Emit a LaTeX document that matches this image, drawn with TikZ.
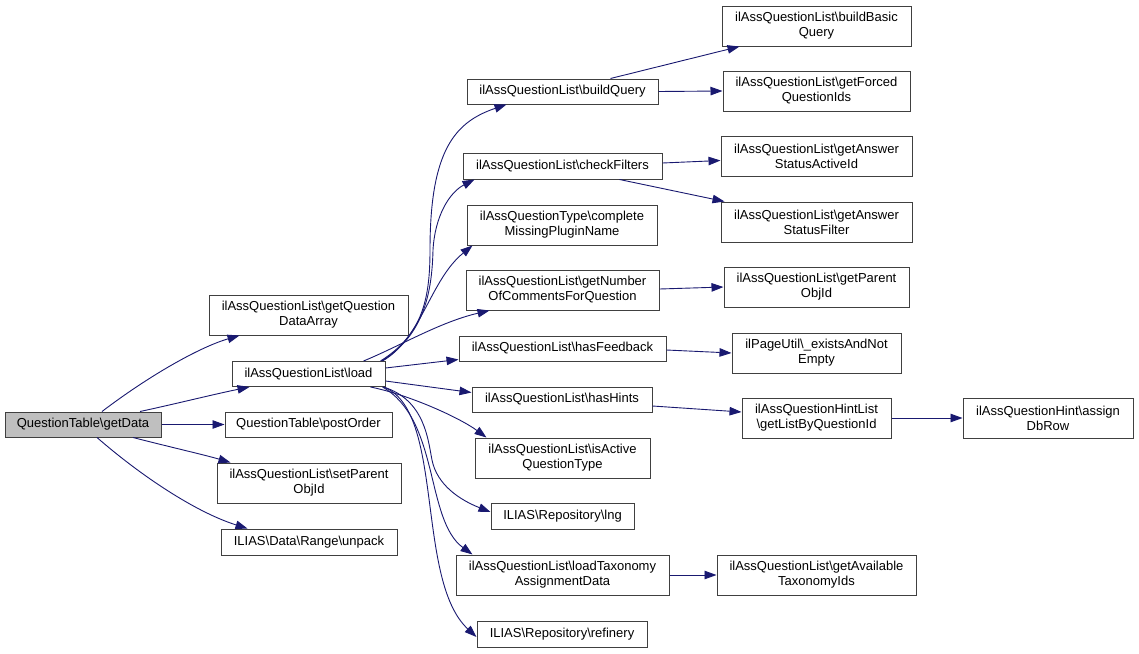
\documentclass[tikz,border=0pt]{standalone}
\usepackage{fontspec}
\setmainfont{Liberation Sans}
\usetikzlibrary{arrows.meta}
\definecolor{edgec}{HTML}{191970}
\definecolor{bord}{HTML}{404040}
\definecolor{gfill}{HTML}{BFBFBF}
\newcommand{\bs}{\textbackslash}
\begin{document}
\begin{tikzpicture}[x=1pt,y=-1pt,
 box/.style={draw=bord,line width=1pt,fill=white,inner sep=0pt,align=center,font=\fontsize{13}{15}\selectfont},
 e/.style={draw=edgec,line width=0.9pt,-{Triangle[length=12pt,width=8.5pt]}}]
\useasboundingbox (0,0) rectangle (1139,653);
% column 0
\node[box,fill=gfill,minimum width=156pt,minimum height=25pt] (getData) at (83,424.5) {QuestionTable\bs getData};
% column 1
\node[box,minimum width=199pt,minimum height=40pt] (gqda) at (308.5,315) {ilAssQuestionList\bs getQuestion\\DataArray};
\node[box,minimum width=153pt,minimum height=25pt] (load) at (308.5,374) {ilAssQuestionList\bs load};
\node[box,minimum width=167pt,minimum height=25pt] (postOrder) at (308.5,424.5) {QuestionTable\bs postOrder};
\node[box,minimum width=184pt,minimum height=40pt] (setParent) at (309,483) {ilAssQuestionList\bs setParent\\ObjId};
\node[box,minimum width=176pt,minimum height=26pt] (unpack) at (309,542) {ILIAS\bs Data\bs Range\bs unpack};
% column 2
\node[box,minimum width=191pt,minimum height=25pt] (buildQuery) at (562.5,91.5) {ilAssQuestionList\bs buildQuery};
\node[box,minimum width=199pt,minimum height=26pt] (checkFilters) at (562.5,166) {ilAssQuestionList\bs checkFilters};
\node[box,minimum width=190pt,minimum height=40pt] (complete) at (562,225) {ilAssQuestionType\bs complete\\MissingPluginName};
\node[box,minimum width=193pt,minimum height=40pt] (numComments) at (562.5,290) {ilAssQuestionList\bs getNumber\\OfCommentsForQuestion};
\node[box,minimum width=207pt,minimum height=25pt] (hasFeedback) at (562.5,348.5) {ilAssQuestionList\bs hasFeedback};
\node[box,minimum width=180pt,minimum height=25pt] (hasHints) at (562,399.5) {ilAssQuestionList\bs hasHints};
\node[box,minimum width=175pt,minimum height=40pt] (isActive) at (562.5,458) {ilAssQuestionList\bs isActive\\QuestionType};
\node[box,minimum width=143pt,minimum height=26pt] (lng) at (562.5,516) {ILIAS\bs Repository\bs lng};
\node[box,minimum width=213pt,minimum height=40pt] (loadTax) at (562.5,575) {ilAssQuestionList\bs loadTaxonomy\\AssignmentData};
\node[box,minimum width=170pt,minimum height=26pt] (refinery) at (562,634) {ILIAS\bs Repository\bs refinery};
% column 3
\node[box,minimum width=189pt,minimum height=40pt] (buildBasic) at (816.5,26) {ilAssQuestionList\bs buildBasic\\Query};
\node[box,minimum width=187pt,minimum height=40pt] (forced) at (816.5,91) {ilAssQuestionList\bs getForced\\QuestionIds};
\node[box,minimum width=191pt,minimum height=40pt] (gasActive) at (816.5,156.5) {ilAssQuestionList\bs getAnswer\\StatusActiveId};
\node[box,minimum width=191pt,minimum height=40pt] (gasFilter) at (816.5,222) {ilAssQuestionList\bs getAnswer\\StatusFilter};
\node[box,minimum width=185pt,minimum height=40pt] (parentObj) at (816.5,287) {ilAssQuestionList\bs getParent\\ObjId};
\node[box,minimum width=169pt,minimum height=40pt] (exists) at (816.5,353) {ilPageUtil\bs\_existsAndNot\\Empty};
\node[box,minimum width=149pt,minimum height=40pt] (getList) at (816.5,418) {ilAssQuestionHintList\\\bs getListByQuestionId};
\node[box,minimum width=199pt,minimum height=40pt] (taxIds) at (816.5,575) {ilAssQuestionList\bs getAvailable\\TaxonomyIds};
% column 4
\node[box,minimum width=170pt,minimum height=40pt] (assign) at (1048,418) {ilAssQuestionHint\bs assign\\DbRow};
% edges from getData
\draw[e] ([xshift=19pt]getData.north) .. controls (150,375) and (200,347) .. ([xshift=31pt]gqda.south west);
\draw[e] ([xshift=57pt]getData.north) .. controls (175,404) and (215,394) .. ([xshift=18pt]load.south west);
\draw[e] (getData.east) -- (postOrder.west);
\draw[e] ([xshift=50pt]getData.south) .. controls (170,447) and (205,455) .. ([xshift=14pt]setParent.north west);
\draw[e] ([xshift=14pt]getData.south) .. controls (140,475) and (195,512) .. ([xshift=27pt]unpack.north west);
% edges from load (upward)
\draw[e] ([xshift=-5pt]load.north east) .. controls (422,335) and (430,300) .. (430,250) .. controls (430,150) and (455,122) .. ([xshift=40pt]buildQuery.south west);
\draw[e] ([xshift=-4pt]load.north east) .. controls (425,335) and (432,290) .. (433,250) .. controls (435,215) and (450,192) .. ([xshift=12pt]checkFilters.south west);
\draw[e] ([xshift=-3pt]load.north east) .. controls (422,338) and (430,280) .. ([xshift=6pt]complete.south west);
\draw[e] ([xshift=-22pt]load.north east) .. controls (400,346) and (440,322) .. ([xshift=24pt]numComments.south west);
% edges from load (rightward and downward)
\draw[e] ([yshift=6pt]load.east) -- ([yshift=-11pt]hasFeedback.west);
\draw[e] ([yshift=-7pt]load.east) -- ([yshift=7pt]hasHints.west);
\draw[e] ([xshift=-15pt]load.south east) .. controls (410,395) and (460,418) .. ([xshift=12pt]isActive.north west);
\draw[e] ([xshift=-2pt]load.south east) .. controls (425,400) and (428,440) .. (432,460) .. controls (437,485) and (460,500) .. ([yshift=4pt]lng.west);
\draw[e] ([xshift=-3pt]load.south east) .. controls (440,420) and (425,520) .. ([xshift=17pt]loadTax.north west);
\draw[e] ([xshift=-2pt]load.south east) .. controls (445,410) and (415,580) .. ([yshift=-3pt]refinery.west);
% second level
\draw[e] ([xshift=48pt]buildQuery.north) -- ([xshift=18pt]buildBasic.south west);
\draw[e] (buildQuery.east) -- (forced.west);
\draw[e] ([yshift=3pt]checkFilters.east) -- ([yshift=-4pt]gasActive.west);
\draw[e] ([xshift=57pt]checkFilters.south) -- ([xshift=4pt]gasFilter.north west);
\draw[e] ([yshift=1pt]numComments.east) -- (parentObj.west);
\draw[e] ([yshift=-1.5pt]hasFeedback.east) -- (exists.west);
\draw[e] ([yshift=-6.5pt]hasHints.east) -- ([yshift=6pt]getList.west);
\draw[e] (getList.east) -- (assign.west);
\draw[e] (loadTax.east) -- (taxIds.west);
\end{tikzpicture}
\end{document}
